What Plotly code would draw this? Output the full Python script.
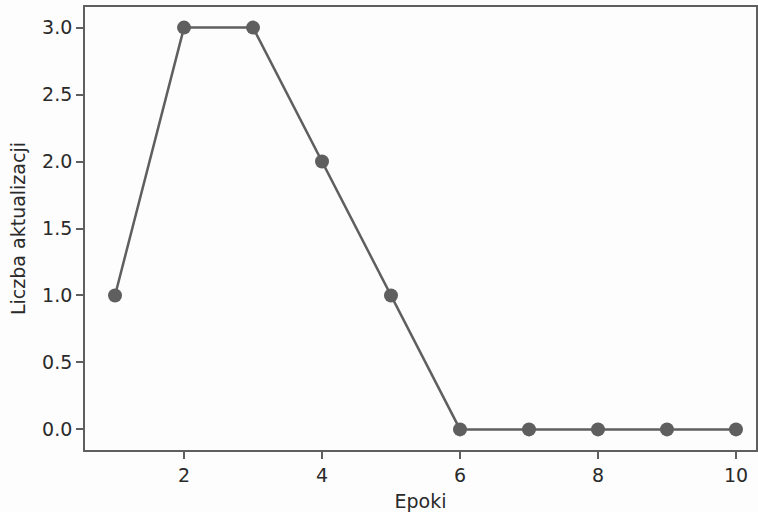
import plotly.graph_objects as go

epoki = [1, 2, 3, 4, 5, 6, 7, 8, 9, 10]
aktualizacje = [1, 3, 3, 2, 1, 0, 0, 0, 0, 0]
x_ticks = [2, 4, 6, 8, 10]
y_ticks = [0.0, 0.5, 1.0, 1.5, 2.0, 2.5, 3.0]

fig = go.Figure()
fig.add_trace(go.Scatter(
    x=epoki, y=aktualizacje, mode="lines+markers",
    line=dict(color="#5f5f5f", width=2.5),
    marker=dict(color="#5f5f5f", size=14),
))

axis_common = dict(
    showgrid=False, zeroline=False, showline=True, linecolor="#5f5f5f", linewidth=1.8,
    mirror=True, ticks="outside", ticklen=7, tickwidth=1.5, tickcolor="#5f5f5f",
    tickfont=dict(family="DejaVu Sans", size=19, color="#2a2a2a"),
)
fig.update_xaxes(range=[0.565, 10.29], tickvals=x_ticks, ticktext=[str(v) for v in x_ticks],
                 title=dict(text="Epoki", font=dict(family="DejaVu Sans", size=19, color="#2a2a2a"), standoff=12),
                 **axis_common)
fig.update_yaxes(range=[-0.154, 3.154], tickvals=y_ticks, ticktext=[f"{v:.1f}" for v in y_ticks],
                 title=dict(text="Liczba aktualizacji", font=dict(family="DejaVu Sans", size=19, color="#2a2a2a"), standoff=11),
                 **axis_common)
fig.update_layout(
    width=758, height=512, margin=dict(l=85, r=2, t=7, b=62, autoexpand=False),
    plot_bgcolor="#fdfdfd", paper_bgcolor="#fdfdfd", showlegend=False,
)
fig.write_html("out.html", config={"displayModeBar": False},
               post_script="document.body.style.margin='0';document.body.style.overflow='hidden';")
